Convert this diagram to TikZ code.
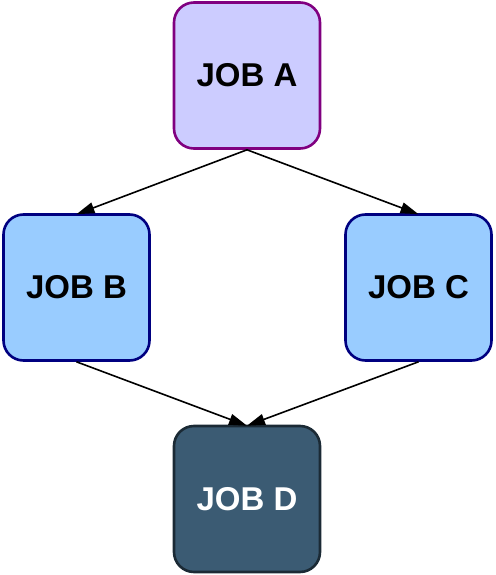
\documentclass[tikz,border=0pt]{standalone}
\usepackage{fontspec}
\setmainfont{Liberation Sans}
\usetikzlibrary{arrows.meta}
\definecolor{afill}{HTML}{CCCCFF}
\definecolor{aline}{HTML}{800080}
\definecolor{bfill}{HTML}{99CCFF}
\definecolor{bline}{HTML}{000080}
\definecolor{dfill}{HTML}{3B5B73}
\definecolor{dline}{HTML}{1B2A35}
\tikzset{
  job/.style={draw, line width=2.6pt, rounded corners=20pt, minimum width=146pt, minimum height=146pt, inner sep=0pt, font=\fontsize{33}{38}\selectfont\bfseries},
  joba/.style={job, fill=afill, draw=aline},
  jobbc/.style={job, fill=bfill, draw=bline},
  jobd/.style={job, fill=dfill, draw=dline, text=white},
  dep/.style={line width=1.6pt, -{Triangle[length=18pt,width=11pt]}}
}
\begin{document}
\begin{tikzpicture}[x=1pt,y=-1pt]
\useasboundingbox (0,0) rectangle (495,575);
\node[joba] (A) at (247,75.5) {JOB A};
\node[jobbc] (B) at (76.5,287.5) {JOB B};
\node[jobbc] (C) at (418.5,287.5) {JOB C};
\node[jobd] (D) at (247,499) {JOB D};
\draw[dep] (A.south) -- ([yshift=-1pt]B.north);
\draw[dep] (A.south) -- ([yshift=-1pt]C.north);
\draw[dep] (B.south) -- ([yshift=-1pt]D.north);
\draw[dep] (C.south) -- ([yshift=-1pt]D.north);
\end{tikzpicture}
\end{document}
